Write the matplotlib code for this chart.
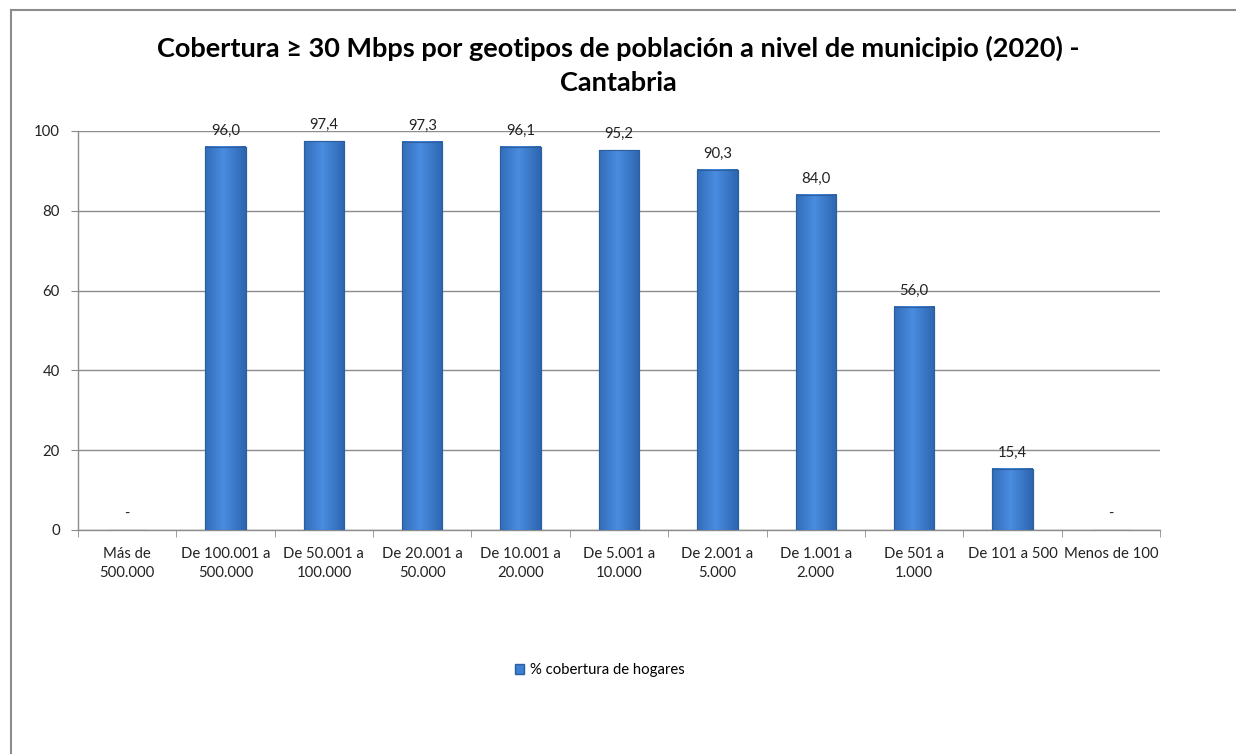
import numpy as np
import matplotlib as mpl
mpl.use('Agg')
import matplotlib.pyplot as plt
from matplotlib.lines import Line2D
from matplotlib.patches import Patch

plt.rcParams['font.family'] = ['Lato', 'DejaVu Sans']

categorias = ['Más de\n500.000', 'De 100.001 a\n500.000', 'De 50.001 a\n100.000',
              'De 20.001 a\n50.000', 'De 10.001 a\n20.000', 'De 5.001 a\n10.000',
              'De 2.001 a\n5.000', 'De 1.001 a\n2.000', 'De 501 a\n1.000',
              'De 101 a 500', 'Menos de 100']
cobertura = [np.nan, 96.0, 97.4, 97.3, 96.1, 95.2, 90.3, 84.0, 56.0, 15.4, np.nan]

fig = plt.figure(figsize=(12.36, 7.54), dpi=100)
ax = fig.add_axes([0.0631, 0.2971, 0.8754, 0.5292])

x = np.arange(len(categorias))
vals = np.nan_to_num(cobertura)
bars = ax.bar(x, vals, width=0.41, color='#3d7fd3', edgecolor='#2b5f9e', linewidth=0.8, zorder=3)

# simple bevel shading on each bar
cm = mpl.colors.LinearSegmentedColormap.from_list('b', ['#4a8ce0', '#2d66b0'])
for b in bars:
    h = b.get_height()
    if h <= 0:
        continue
    x0, w = b.get_x(), b.get_width()
    grad = np.linspace(0, 1, 50).reshape(1, -1)
    ax.imshow(np.abs(grad - 0.45), extent=(x0, x0 + w, 0, h), aspect='auto',
              cmap=cm, zorder=3.5, clip_path=b, clip_on=True)
    ax.add_patch(plt.Rectangle((x0, 0), w, h, fill=False, edgecolor='#2b5f9e', lw=0.8, zorder=4))

for xi, v in zip(x, cobertura):
    txt = '-' if np.isnan(v) else '{:.1f}'.format(v).replace('.', ',')
    y = 0 if np.isnan(v) else v
    ax.annotate(txt, (xi, y), xytext=(0, 16), textcoords='offset pixels',
                ha='center', va='center', fontsize=10.7, color='#222222', zorder=5)

ax.set_xlim(-0.5, len(categorias) - 0.5)
ax.set_ylim(0, 100)
ax.set_yticks(range(0, 101, 20))
ax.yaxis.grid(True, color='#8c8c8c', linewidth=1, zorder=0)
ax.set_axisbelow(True)
ax.set_xticks(x)
ax.set_xticklabels(categorias, fontsize=10.7, color='#222222', linespacing=1.45)
ax.tick_params(axis='x', length=0, pad=12)
ax.set_xticks(np.arange(-0.5, len(categorias)), minor=True)
ax.tick_params(axis='x', which='minor', length=5, color='#8c8c8c')
ax.tick_params(axis='y', length=5, color='#8c8c8c', labelsize=10.7, labelcolor='#222222', pad=8)
for s in ['top', 'right']:
    ax.spines[s].set_visible(False)
for s in ['left', 'bottom']:
    ax.spines[s].set_color('#8c8c8c')
    ax.spines[s].set_linewidth(1)

fig.text(0.5, 0.914, 'Cobertura ≥ 30 Mbps por geotipos de población a nivel de municipio (2020) -\nCantabria',
         ha='center', va='center', fontsize=19.5, fontweight='bold', linespacing=1.5)

fig.legend(handles=[Patch(facecolor='#3d7fd3', edgecolor='#2b5f9e')], labels=['% cobertura de hogares'],
           loc='center', bbox_to_anchor=(0.485, 0.111), frameon=False, fontsize=10.7,
           handlelength=0.6, handleheight=0.6, handletextpad=0.4)

# outer chart frame
fig.add_artist(Line2D([11 / 1236, 11 / 1236], [0, 1 - 10 / 754], color='#8c8c8c', lw=1.5, transform=fig.transFigure))
fig.add_artist(Line2D([11 / 1236, 1], [1 - 10 / 754, 1 - 10 / 754], color='#8c8c8c', lw=1.5, transform=fig.transFigure))

plt.savefig('out.png', dpi=100)
